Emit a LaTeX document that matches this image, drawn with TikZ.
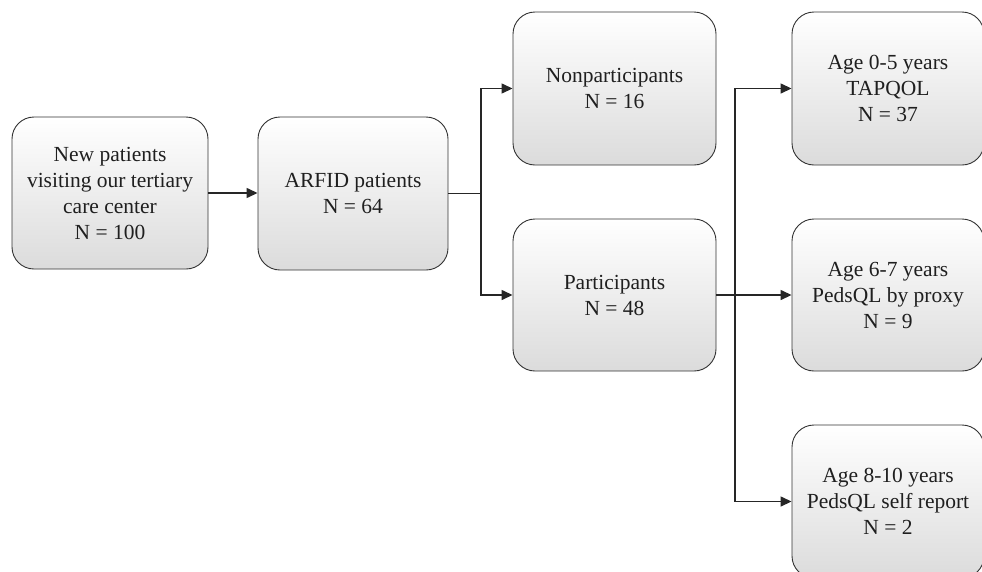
\documentclass[tikz,border=0pt]{standalone}
\usepackage{fontspec}
\setmainfont{Liberation Serif}
\usetikzlibrary{arrows.meta}
\tikzset{
  flowbox/.style={draw=black!80, line width=0.9pt, rounded corners=22pt,
    top color=white, bottom color=black!14, align=center,
    inner sep=0pt, text=black!88,
    font=\fontsize{21.5}{26}\selectfont},
  link/.style={line width=1.4pt, draw=black!85},
  arr/.style={link, -{Triangle[length=11pt,width=10pt]}}
}
\begin{document}
\begin{tikzpicture}[x=1pt,y=-1pt]
\useasboundingbox (0,0) rectangle (982,571);
\clip (0,0) rectangle (982,571);
\node[flowbox, minimum width=196pt, minimum height=152pt] (b1) at (110,193)
  {New patients\\visiting our tertiary\\care center\\N = 100};
\node[flowbox, minimum width=190pt, minimum height=153pt] (b2) at (353,193.5)
  {ARFID patients\\N = 64};
\node[flowbox, minimum width=203pt, minimum height=153pt] (b3) at (614.5,88.5)
  {Nonparticipants\\N = 16};
\node[flowbox, minimum width=203pt, minimum height=152pt] (b4) at (614.5,295)
  {Participants\\N = 48};
\node[flowbox, minimum width=192pt, minimum height=153pt] (b5) at (888,88.5)
  {Age 0-5 years\\TAPQOL\\N = 37};
\node[flowbox, minimum width=192pt, minimum height=152pt] (b6) at (888,295)
  {Age 6-7 years\\PedsQL by proxy\\N = 9};
\node[flowbox, minimum width=192pt, minimum height=153pt] (b7) at (888,501.5)
  {Age 8-10 years\\PedsQL self report\\N = 2};
\coordinate (j1) at (481,193.5);
\coordinate (j2) at (735,295);
\draw[arr] (b1.east) -- (b2.west |- b1.east);
\draw[link] (b2.east) -- (j1);
\draw[arr] (j1) |- (b3.west);
\draw[arr] (j1) |- (b4.west);
\draw[arr] (b4.east) -- (b6.west);
\draw[arr] (j2) |- (b5.west);
\draw[arr] (j2) |- (b7.west);
\end{tikzpicture}
\end{document}
